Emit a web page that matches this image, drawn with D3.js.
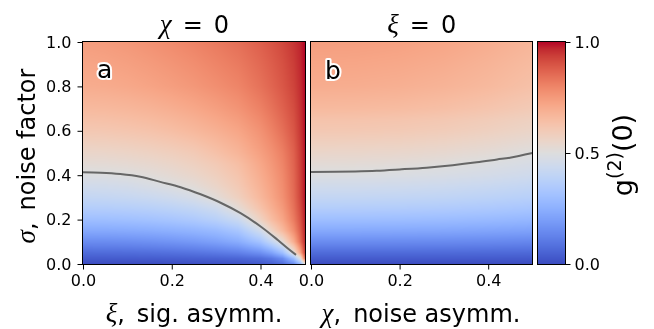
<!DOCTYPE html>
<html><head><meta charset="utf-8">
<script src="https://cdn.jsdelivr.net/npm/d3@7"></script>
<style>
html,body{margin:0;padding:0;background:#fff;}
#wrap{position:relative;width:654px;height:329px;}
canvas,svg{position:absolute;left:0;top:0;}
</style></head><body>
<div id="wrap"><canvas id="cv" width="654" height="329"></canvas><svg id="sv" width="654" height="329"></svg></div>
<script>
// ---------- data ----------
// Panel a: g2(0) over xi (columns) and sigma (rows), chi = 0
const xiValues = [0, 0.05, 0.1, 0.15, 0.2, 0.25, 0.3, 0.35, 0.4, 0.425, 0.45, 0.475, 0.49, 0.5];
const sigmaRowsA = [0, 0.025, 0.05, 0.1, 0.15, 0.2, 0.25, 0.3, 0.35, 0.4, 0.45, 0.5, 0.6, 0.7, 0.8, 0.9, 1.0];
const g2RowsA = [
  [0,0,0,0,0.003,0.006,0.01,0.016,0.03,0.045,0.075,0.15,0.28,0.5],
  [0.035,0.035,0.036,0.038,0.041,0.045,0.05,0.058,0.075,0.1,0.15,0.3,0.5,0.85],
  [0.07,0.071,0.073,0.077,0.083,0.091,0.103,0.12,0.16,0.21,0.3,0.51,0.72,0.93],
  [0.15,0.151,0.155,0.162,0.172,0.186,0.207,0.24,0.32,0.41,0.52,0.7,0.85,0.965],
  [0.23,0.231,0.235,0.242,0.252,0.266,0.287,0.33,0.45,0.56,0.66,0.78,0.88,0.975],
  [0.30,0.302,0.307,0.315,0.327,0.345,0.375,0.43,0.57,0.65,0.72,0.82,0.9,0.98],
  [0.36,0.362,0.367,0.375,0.388,0.407,0.44,0.52,0.63,0.69,0.75,0.84,0.915,0.985],
  [0.41,0.413,0.42,0.43,0.446,0.47,0.515,0.578,0.667,0.717,0.772,0.852,0.927,0.99],
  [0.45,0.453,0.46,0.476,0.495,0.515,0.553,0.605,0.685,0.73,0.782,0.858,0.93,0.99],
  [0.49,0.492,0.499,0.51,0.526,0.548,0.58,0.625,0.7,0.742,0.79,0.862,0.932,0.99],
  [0.52,0.522,0.528,0.538,0.553,0.574,0.603,0.645,0.715,0.755,0.8,0.868,0.935,0.99],
  [0.55,0.552,0.558,0.568,0.582,0.601,0.635,0.675,0.735,0.77,0.812,0.874,0.938,0.99],
  [0.61,0.613,0.62,0.63,0.645,0.665,0.69,0.72,0.77,0.805,0.845,0.895,0.948,0.993],
  [0.66,0.663,0.67,0.681,0.696,0.714,0.737,0.765,0.808,0.838,0.872,0.912,0.955,0.995],
  [0.70,0.704,0.712,0.724,0.739,0.756,0.777,0.80,0.84,0.865,0.893,0.928,0.962,0.996],
  [0.72,0.725,0.734,0.747,0.762,0.779,0.80,0.822,0.858,0.88,0.905,0.938,0.968,0.998],
  [0.74,0.746,0.756,0.77,0.786,0.803,0.823,0.845,0.877,0.897,0.92,0.95,0.973,1.0]
];
// Panel b: g2(0) over chi (columns) and sigma (rows), xi = 0
const chiValues = [0, 0.1, 0.2, 0.3, 0.4, 0.5];
const sigmaRowsB = [0,0.05,0.1,0.15,0.2,0.25,0.3,0.35,0.4,0.45,0.5,0.55,0.6,0.65,0.7,0.75,0.8,0.85,0.9,0.95,1.0];
const g2RowsB = [
  [0,0,0,0,0,0],
  [0.07,0.070,0.069,0.068,0.066,0.064],
  [0.15,0.150,0.148,0.146,0.142,0.136],
  [0.23,0.229,0.227,0.224,0.217,0.209],
  [0.30,0.299,0.297,0.292,0.284,0.273],
  [0.36,0.359,0.356,0.350,0.340,0.327],
  [0.41,0.409,0.405,0.399,0.387,0.373],
  [0.45,0.449,0.445,0.437,0.425,0.409],
  [0.49,0.489,0.485,0.476,0.463,0.445],
  [0.52,0.518,0.514,0.505,0.491,0.473],
  [0.55,0.548,0.544,0.535,0.520,0.500],
  [0.58,0.578,0.574,0.564,0.548,0.527],
  [0.61,0.608,0.603,0.593,0.576,0.554],
  [0.63,0.628,0.623,0.612,0.595,0.573],
  [0.66,0.658,0.653,0.642,0.624,0.600],
  [0.68,0.678,0.673,0.661,0.643,0.618],
  [0.70,0.698,0.692,0.680,0.662,0.636],
  [0.71,0.708,0.702,0.690,0.671,0.645],
  [0.72,0.718,0.712,0.700,0.680,0.654],
  [0.73,0.728,0.722,0.710,0.690,0.664],
  [0.74,0.738,0.732,0.719,0.699,0.673]
];
// g2(0) = 0.5 contour lines
const contourAXi    = [0, 0.04, 0.084, 0.129, 0.174, 0.22, 0.265, 0.31, 0.356, 0.401, 0.439, 0.461, 0.48];
const contourASigma = [0.413, 0.411, 0.405, 0.393, 0.37, 0.346, 0.314, 0.276, 0.228, 0.168, 0.108, 0.071, 0.041];
const contourBChi   = [0, 0.1, 0.148, 0.2, 0.261, 0.32, 0.374, 0.42, 0.449, 0.5];
const contourBSigma = [0.414, 0.417, 0.42, 0.426, 0.434, 0.445, 0.458, 0.471, 0.479, 0.5];
// ticks
const xTickValues = [0, 0.2, 0.4];
const yTickValues = [0, 0.2, 0.4, 0.6, 0.8, 1.0];
const cbTickValues = [0, 0.5, 1.0];
// coolwarm colormap anchors (Moreland)
const coolwarmColors = ["rgb(59,76,192)","rgb(68,90,204)","rgb(77,104,215)","rgb(87,117,225)","rgb(98,130,234)","rgb(108,142,241)","rgb(119,154,247)","rgb(130,165,251)","rgb(141,176,254)","rgb(152,185,255)","rgb(163,194,255)","rgb(174,201,253)","rgb(184,208,249)","rgb(194,213,244)","rgb(204,217,238)","rgb(213,219,230)","rgb(221,221,221)","rgb(229,216,209)","rgb(236,211,197)","rgb(241,204,185)","rgb(245,196,173)","rgb(247,187,160)","rgb(247,177,148)","rgb(247,166,135)","rgb(244,154,123)","rgb(241,141,111)","rgb(236,127,99)","rgb(229,112,88)","rgb(222,96,77)","rgb(213,80,66)","rgb(203,62,56)","rgb(192,40,47)","rgb(180,4,38)"];

// ---------- layout ----------
const plotTop = 42, plotBottom = 264;
const y = d3.scaleLinear().domain([0, 1]).range([plotBottom, plotTop]);
const xA = d3.scaleLinear().domain([0, 0.5025]).range([83, 306]);
const xB = d3.scaleLinear().domain([0, 0.5]).range([311, 532.5]);
const cbLeft = 538, cbRight = 566;
const cbY = d3.scaleLinear().domain([0, 1]).range([plotBottom, plotTop]);
const color = d3.scaleLinear()
  .domain(coolwarmColors.map((c, i) => i / (coolwarmColors.length - 1)))
  .range(coolwarmColors).interpolate(d3.interpolateRgb).clamp(true);

function sample(xs, ys, rows, xv, yv) {
  xv = Math.max(xs[0], Math.min(xs[xs.length - 1], xv));
  yv = Math.max(ys[0], Math.min(ys[ys.length - 1], yv));
  let i = Math.max(0, Math.min(d3.bisectRight(xs, xv) - 1, xs.length - 2));
  let j = Math.max(0, Math.min(d3.bisectRight(ys, yv) - 1, ys.length - 2));
  const tx = (xv - xs[i]) / (xs[i + 1] - xs[i]);
  const ty = (yv - ys[j]) / (ys[j + 1] - ys[j]);
  return (1 - tx) * (1 - ty) * rows[j][i] + tx * (1 - ty) * rows[j][i + 1]
       + (1 - tx) * ty * rows[j + 1][i] + tx * ty * rows[j + 1][i + 1];
}

const ctx = document.getElementById("cv").getContext("2d");
function paintPanel(xs, ys, rows, xScale) {
  const x0 = Math.round(xScale.range()[0]), x1 = Math.round(xScale.range()[1]);
  const w = x1 - x0, h = plotBottom - plotTop;
  const img = ctx.createImageData(w, h);
  for (let py = 0; py < h; py++) {
    const sv = y.invert(plotTop + py + 0.5);
    for (let px = 0; px < w; px++) {
      const xv = xScale.invert(x0 + px + 0.5);
      const c = d3.rgb(color(sample(xs, ys, rows, xv, sv)));
      const k = 4 * (py * w + px);
      img.data[k] = c.r; img.data[k + 1] = c.g; img.data[k + 2] = c.b; img.data[k + 3] = 255;
    }
  }
  ctx.putImageData(img, x0, plotTop);
}
paintPanel(xiValues, sigmaRowsA, g2RowsA, xA);
paintPanel(chiValues, sigmaRowsB, g2RowsB, xB);
// colorbar
for (let py = plotTop; py < plotBottom; py++) {
  ctx.fillStyle = color(cbY.invert(py + 0.5));
  ctx.fillRect(cbLeft, py, cbRight - cbLeft, 1);
}

// ---------- svg overlay ----------
const svg = d3.select("#sv");
const SANS = "DejaVu Sans", SERIF = "Liberation Serif";

const line = d3.line().curve(d3.curveCatmullRom.alpha(0.5));
svg.append("path")
  .attr("d", line(contourAXi.map((v, i) => [xA(v), y(contourASigma[i])])))
  .attr("fill", "none").attr("stroke", "#666").attr("stroke-width", 2);
svg.append("path")
  .attr("d", line(contourBChi.map((v, i) => [xB(v), y(contourBSigma[i])])))
  .attr("fill", "none").attr("stroke", "#666").attr("stroke-width", 2);

// frames
function frame(x0, x1) {
  svg.append("rect").attr("x", x0 - 0.5).attr("y", plotTop - 0.5)
    .attr("width", x1 - x0 + 1).attr("height", plotBottom - plotTop + 1)
    .attr("fill", "none").attr("stroke", "#000").attr("stroke-width", 1);
}
frame(Math.round(xA.range()[0]), Math.round(xA.range()[1]) - 1);
frame(Math.round(xB.range()[0]), Math.round(xB.range()[1]) - 1);
frame(cbLeft, cbRight - 1);

// axes
function styleAxis(g) {
  g.select(".domain").remove();
  g.selectAll(".tick line").attr("stroke", "#000").attr("stroke-width", 1);
  g.selectAll(".tick text").attr("font-family", SANS).attr("font-size", 16).attr("fill", "#000");
}
const fmt = d3.format(".1f");
svg.append("g").attr("transform", `translate(0,${plotBottom + 0.5})`)
  .call(d3.axisBottom(xA).tickValues(xTickValues).tickFormat(fmt).tickSize(5).tickPadding(5))
  .call(styleAxis);
svg.append("g").attr("transform", `translate(0,${plotBottom + 0.5})`)
  .call(d3.axisBottom(xB).tickValues(xTickValues).tickFormat(fmt).tickSize(5).tickPadding(5))
  .call(styleAxis);
svg.append("g").attr("transform", `translate(${xA.range()[0] - 0.5},0)`)
  .call(d3.axisLeft(y).tickValues(yTickValues).tickFormat(fmt).tickSize(5).tickPadding(6))
  .call(styleAxis);
svg.append("g").attr("transform", `translate(${cbRight - 0.5},0)`)
  .call(d3.axisRight(cbY).tickValues(cbTickValues).tickFormat(fmt).tickSize(5).tickPadding(4))
  .call(styleAxis);

// titles
function mathTitle(cx, sym, rest) {
  const t = svg.append("text").attr("x", cx).attr("y", 33).attr("text-anchor", "middle")
    .attr("font-size", 24).attr("font-family", SANS).attr("fill", "#000");
  t.append("tspan").attr("font-family", SERIF).attr("font-style", "italic").attr("font-size", 27).text(sym);
  t.append("tspan").attr("dx", 11).text("=");
  t.append("tspan").attr("dx", 11).text(rest);
}
mathTitle((xA.range()[0] + xA.range()[1]) / 2, "χ", "0");
mathTitle((xB.range()[0] + xB.range()[1]) / 2, "ξ", "0");

// x labels
function xLabel(cx, sym, rest) {
  const t = svg.append("text").attr("x", cx).attr("y", 322).attr("text-anchor", "middle")
    .attr("font-size", 24).attr("font-family", SANS).attr("fill", "#000");
  t.append("tspan").attr("font-family", SERIF).attr("font-style", "italic").attr("font-size", 27).text(sym);
  t.append("tspan").text(",");
  t.append("tspan").attr("dx", 12).text(rest);
}
xLabel(194, "ξ", "sig. asymm.");
xLabel(421, "χ", "noise asymm.");

// y label
{
  const t = svg.append("text").attr("transform", "translate(35,156) rotate(-90)")
    .attr("text-anchor", "middle").attr("font-size", 24).attr("font-family", SANS).attr("fill", "#000");
  t.append("tspan").attr("font-family", SERIF).attr("font-style", "italic").attr("font-size", 27).text("σ");
  t.append("tspan").text(",");
  t.append("tspan").attr("dx", 12).text("noise factor");
}
// colorbar label
{
  const t = svg.append("text").attr("transform", "translate(632,155) rotate(-90)")
    .attr("text-anchor", "middle").attr("font-size", 27).attr("font-family", SANS).attr("fill", "#000");
  t.append("tspan").text("g");
  t.append("tspan").attr("font-size", 19).attr("dy", -11).text("(2)");
  t.append("tspan").attr("dy", 11).text("(0)");
}
// panel letters
[["a", 97, 78], ["b", 325, 79]].forEach(([s, px, py]) => {
  svg.append("text").attr("x", px).attr("y", py).text(s)
    .attr("font-family", SANS).attr("font-size", 25).attr("fill", "#000")
    .attr("stroke", "#fff").attr("stroke-width", 4).attr("stroke-linejoin", "round")
    .attr("paint-order", "stroke");
});
</script></body></html>
